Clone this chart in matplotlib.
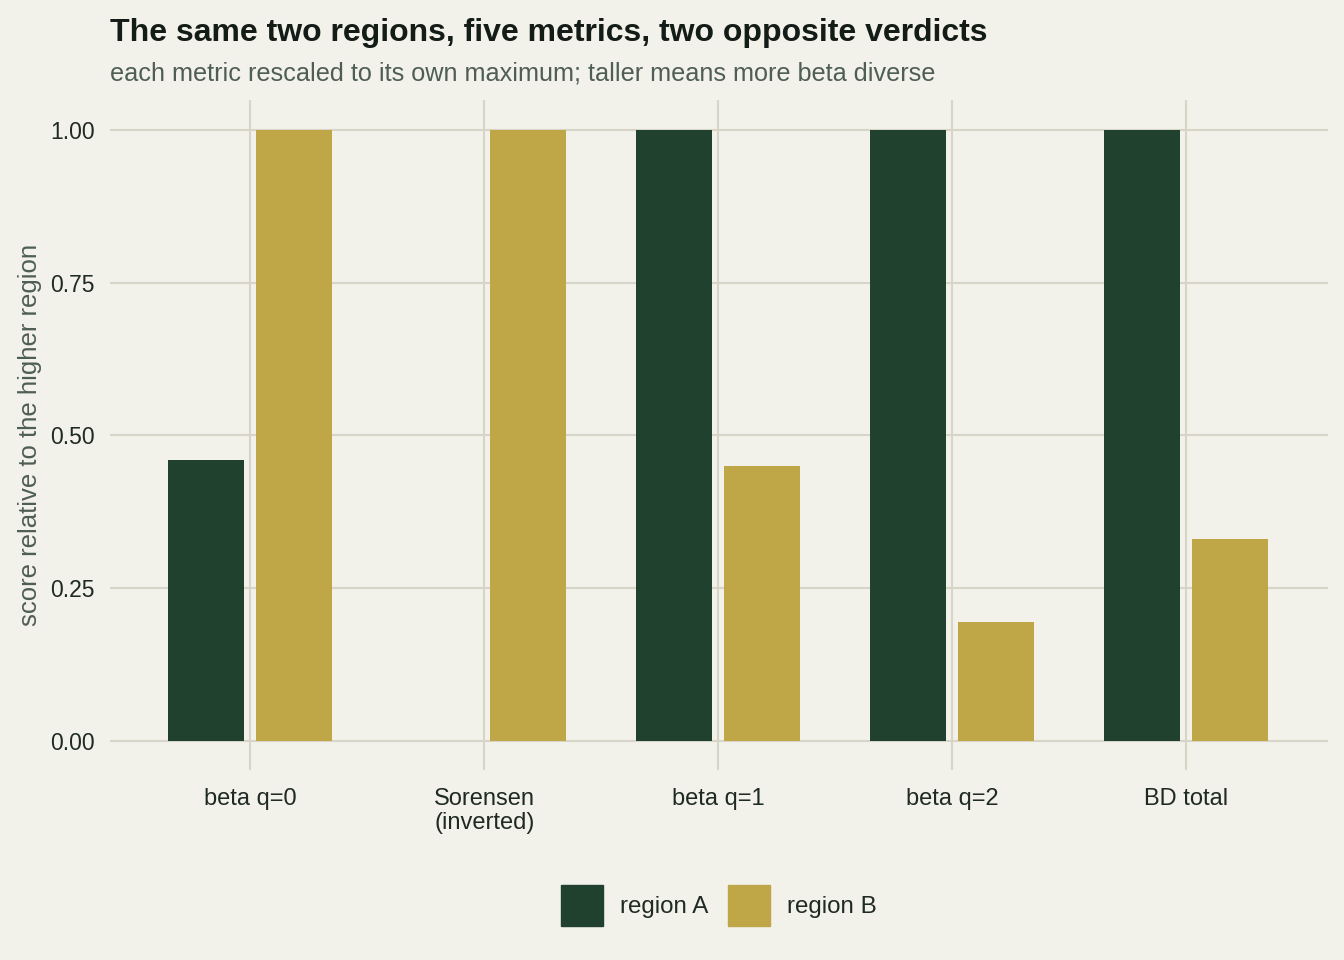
import numpy as np
import matplotlib.pyplot as plt
from matplotlib.patches import Patch

plt.rcParams['font.family'] = ['Liberation Sans', 'DejaVu Sans']

# данные
metrics = ['beta q=0', 'Sorensen\n(inverted)', 'beta q=1', 'beta q=2', 'BD total']
region_a = [0.46, 0.0, 1.0, 1.0, 1.0]
region_b = [1.0, 1.0, 0.45, 0.195, 0.33]

bg = '#F2F1EA'
grid_col = '#D6D5C8'
col_a = '#1F412E'
col_b = '#BFA747'
text_col = '#1E2A22'
sub_col = '#4F5E55'

fig = plt.figure(figsize=(13.44, 9.6), dpi=100, facecolor=bg)
ax = fig.add_axes([0.0818, 0.198, 0.9062, 0.698], facecolor=bg)

x = np.arange(len(metrics))
w = 0.325
off = 0.188
ax.bar(x - off, region_a, width=w, color=col_a, zorder=3)
ax.bar(x + off, region_b, width=w, color=col_b, zorder=3)

ax.set_xlim(-0.6, 4.605)
ax.set_ylim(-0.048, 1.05)
ax.set_xticks(x)
ax.set_xticklabels(metrics, fontsize=17, color=text_col, linespacing=1.1)
ax.set_yticks([0, 0.25, 0.5, 0.75, 1.0])
ax.set_yticklabels(['0.00', '0.25', '0.50', '0.75', '1.00'], fontsize=16.5, color=text_col)
ax.tick_params(length=0, axis='x', pad=13)
ax.tick_params(length=0, axis='y', pad=11)
ax.grid(True, color=grid_col, linewidth=1.5, zorder=0)
for s in ax.spines.values():
    s.set_visible(False)

ax.set_ylabel('score relative to the higher region', fontsize=18.5, color=sub_col, labelpad=6)

fig.text(0.0818, 0.966, 'The same two regions, five metrics, two opposite verdicts',
         fontsize=23, fontweight='bold', color='#141C17', va='center')
fig.text(0.0818, 0.923, 'each metric rescaled to its own maximum; taller means more beta diverse',
         fontsize=18.2, color=sub_col, va='center')

handles = [Patch(color=col_a, label='region A'), Patch(color=col_b, label='region B')]
fig.legend(handles=handles, loc='center', bbox_to_anchor=(0.535, 0.057), ncol=2,
           frameon=False, fontsize=17.4, handlelength=1.74, handleheight=2.2,
           handletextpad=0.7, columnspacing=0.8, labelcolor=text_col)

fig.savefig('out.png', dpi=100, facecolor=bg)
